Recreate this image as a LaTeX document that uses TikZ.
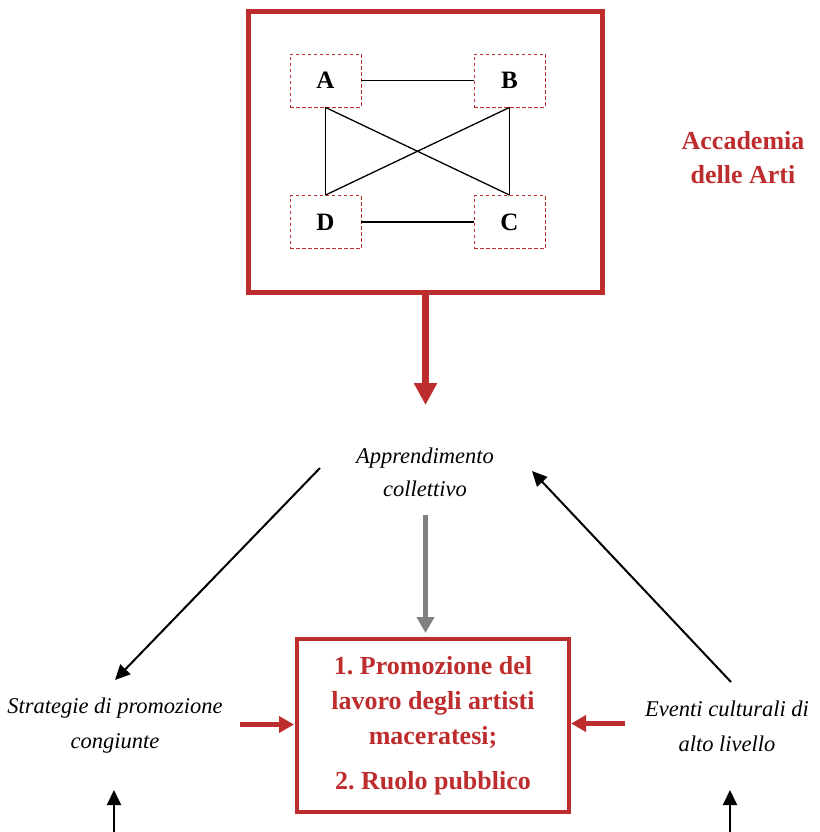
\documentclass[tikz,border=0pt]{standalone}
\usepackage{fontspec}
\setmainfont{Liberation Serif}
\usetikzlibrary{arrows.meta}
\definecolor{accred}{RGB}{190,45,46}
\definecolor{arrgray}{RGB}{128,128,128}
\frenchspacing
\tikzset{
  bigbox/.style={draw=accred, line width=5pt, minimum width=354pt, minimum height=281.5pt, inner sep=0pt},
  letbox/.style={draw=accred, line width=0.9pt, dash pattern=on 3.5pt off 2.5pt, minimum width=71pt, minimum height=53pt, inner sep=0pt, font=\fontsize{25}{30}\selectfont\bfseries},
  conn/.style={line width=1.3pt},
  redarrow/.style={draw=accred, line width=7pt, -{Triangle[length=22pt,width=22pt]}},
  sidearrow/.style={draw=accred, line width=5pt, -{Triangle[length=15pt,width=16pt]}},
  grayarrow/.style={draw=arrgray, line width=5pt, -{Triangle[length=16pt,width=17pt]}},
  blkarrow/.style={draw=black, line width=2pt, -{Triangle[length=15pt,width=14pt]}},
  itlabel/.style={align=center, inner sep=0pt, font=\fontsize{22.5}{33}\selectfont\itshape},
  itlabelb/.style={align=center, inner sep=0pt, font=\fontsize{22.5}{35}\selectfont\itshape},
  redlabel/.style={align=center, inner sep=0pt, text=accred, font=\fontsize{26}{34}\selectfont\bfseries},
  prombox/.style={draw=accred, line width=3.5pt, minimum width=272pt, minimum height=173pt, inner sep=0pt, align=center, text=accred, font=\fontsize{26}{35}\selectfont\bfseries}
}
\begin{document}
\begin{tikzpicture}[x=1pt,y=-1pt]
\useasboundingbox (0,0) rectangle (819,832);
% Accademia box
\node[bigbox] (acc) at (425,152) {};
\node[letbox] (A) at (325.5,80.5) {A};
\node[letbox] (B) at (509.5,80.5) {B};
\node[letbox] (D) at (325.5,222) {D};
\node[letbox] (C) at (509.5,222) {C};
\draw[conn] (A) -- (B);
\draw[conn] (D) -- (C);
\draw[conn] (A.south) -- (C.north);
\draw[conn] (B.south) -- (D.north);
\draw[conn] (A.south) -- (D.north);
\draw[conn] (B.south) -- (C.north);
\node[redlabel] (acclabel) at (743,158) {Accademia\\delle Arti};
% red arrow down
\coordinate (acctip) at (425.5,405);
\draw[redarrow] (acc.south -| acctip) -- (acctip);
% labels
\node[itlabel] (app) at (425,472) {Apprendimento\\collettivo};
\node[itlabelb] (strat) at (115,726) {Strategie di promozione\\congiunte};
\node[itlabelb] (event) at (727,726) {Eventi culturali di\\alto livello};
\node[prombox] (prom) at (433,725.5) {1. Promozione del\\lavoro degli artisti\\maceratesi;\\[10pt]2. Ruolo pubblico};
% gray arrow
\coordinate (g1) at (425.5,515);
\coordinate (g2) at (425.5,633);
\draw[grayarrow] (g1) -- (g2);
% red side arrows
\coordinate (l1) at (240,724.5);
\coordinate (l2) at (294,724.5);
\draw[sidearrow] (l1) -- (l2);
\coordinate (r1) at (625,723.5);
\coordinate (r2) at (571,723.5);
\draw[sidearrow] (r1) -- (r2);
% black diagonal arrows
\coordinate (d1) at (320,468);
\coordinate (d2) at (115,680);
\draw[blkarrow] (d1) -- (d2);
\coordinate (e1) at (731,682);
\coordinate (e2) at (532,471);
\draw[blkarrow] (e1) -- (e2);
% bottom black arrows
\coordinate (b1) at (114,832);
\coordinate (b2) at (114,790);
\draw[blkarrow] (b1) -- (b2);
\coordinate (b3) at (730,832);
\coordinate (b4) at (730,790);
\draw[blkarrow] (b3) -- (b4);
\end{tikzpicture}
\end{document}
